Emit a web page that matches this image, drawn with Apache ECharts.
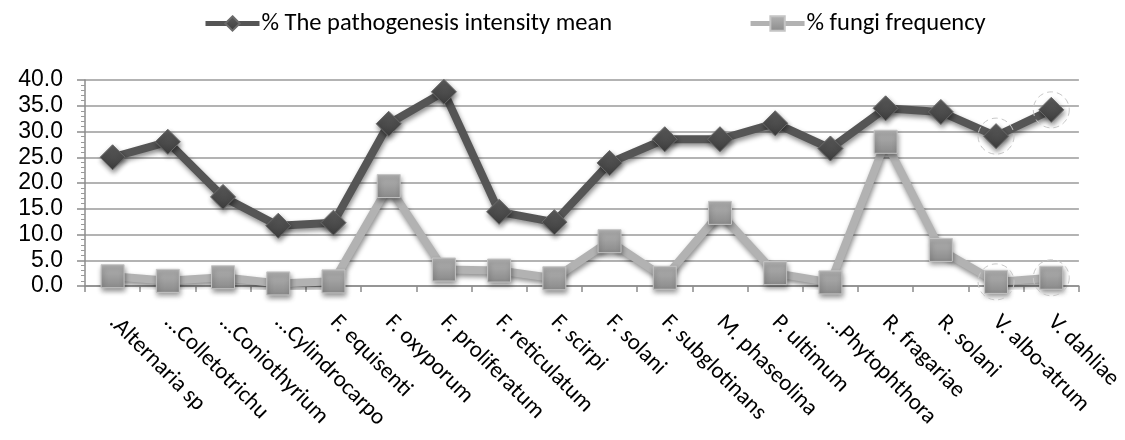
<!DOCTYPE html>
<html>
<head>
<meta charset="utf-8">
<script src="https://cdn.jsdelivr.net/npm/echarts@6/dist/echarts.min.js"></script>
<style>
  html, body { margin: 0; padding: 0; background: #fff; }
  #chart { width: 1125px; height: 440px; }
</style>
</head>
<body>
<div id="chart"></div>
<script>
// Fungal species along the category axis
const categories = [
  '.Alternaria sp', '…Colletotrichu', '…Coniothyrium', '…Cylindrocarpo',
  'F. equisenti', 'F. oxyporum', 'F. proliferatum', 'F. reticulatum',
  'F. scirpi', 'F. solani', 'F. subglotinans', 'M. phaseolina',
  'P. ultimum', '…Phytophthora', 'R. fragariae', 'R. solani',
  'V. albo-atrum', 'V. dahliae'
];

// % The pathogenesis intensity mean
const intensityMean = [
  25.0, 28.0, 17.3, 11.7, 12.3, 31.5, 37.7, 14.4, 12.4, 23.9,
  28.5, 28.5, 31.6, 26.7, 34.5, 33.8, 29.1, 34.2
];

// % fungi frequency
const fungiFrequency = [
  1.9, 1.0, 1.7, 0.5, 0.9, 19.4, 3.2, 3.0, 1.5, 8.7,
  1.6, 14.2, 2.5, 0.7, 28.0, 7.0, 0.8, 1.6
];

const seriesNames = ['% The pathogenesis intensity mean', '% fungi frequency'];
const yTicks = { min: 0, max: 40, interval: 5 };

// the last two points of each series carry a dashed selection ring
const ringedIndices = [16, 17];

const chart = echarts.init(document.getElementById('chart'));

const shadow = {
  shadowColor: 'rgba(0,0,0,0.45)',
  shadowBlur: 5,
  shadowOffsetX: 1,
  shadowOffsetY: 3
};

const uiFont = 'Carlito, Lato, "Open Sans", sans-serif';

function rings(values) {
  return {
    symbol: 'circle',
    symbolSize: 36,
    silent: true,
    label: { show: false },
    itemStyle: {
      color: 'rgba(0,0,0,0)',
      borderColor: '#c8c8c8',
      borderWidth: 1,
      borderType: [6, 4]
    },
    data: ringedIndices.map(i => ({ coord: [i, values[i]] }))
  };
}

chart.setOption({
  animation: false,
  backgroundColor: '#ffffff',
  legend: {
    top: 6,
    left: 198,
    itemGap: 136,
    itemWidth: 54,
    itemHeight: 18,
    lineStyle: { width: 5 },
    textStyle: { fontFamily: uiFont, fontSize: 24.5, color: '#000', padding: [0, 0, 0, -3] },
    data: [seriesNames[0], seriesNames[1]]
  },
  grid: { left: 85, right: 41, top: 80, bottom: 154 },
  xAxis: {
    type: 'category',
    data: categories,
    boundaryGap: true,
    axisLine: { lineStyle: { color: '#8c8c8c', width: 1.5 } },
    axisTick: { show: true, length: 6, inside: false, lineStyle: { color: '#8c8c8c', width: 1.5 } },
    axisLabel: {
      rotate: -45,
      interval: 0,
      margin: 33,
      fontFamily: uiFont,
      fontSize: 23,
      color: '#000'
    }
  },
  yAxis: {
    type: 'value',
    min: yTicks.min,
    max: yTicks.max,
    interval: yTicks.interval,
    axisLine: { show: true, lineStyle: { color: '#8c8c8c', width: 1.5 } },
    axisTick: { show: true, length: 8, lineStyle: { color: '#8c8c8c', width: 1.5 } },
    minorTick: { show: true, splitNumber: 5, length: 4, lineStyle: { color: '#9a9a9a' } },
    splitLine: { show: true, lineStyle: { color: '#9a9a9a', width: 1.5 } },
    axisLabel: {
      formatter: v => v.toFixed(1),
      fontFamily: '"Liberation Sans", Arial, sans-serif',
      fontSize: 23,
      color: '#000',
      margin: 22
    }
  },
  series: [
    {
      name: seriesNames[0],
      type: 'line',
      data: intensityMean,
      symbol: 'diamond',
      symbolSize: 25,
      z: 3,
      lineStyle: Object.assign({ color: '#555555', width: 8 }, shadow),
      itemStyle: Object.assign({
        color: {
          type: 'linear', x: 0, y: 0, x2: 0, y2: 1,
          colorStops: [{ offset: 0, color: '#5e5e5e' }, { offset: 1, color: '#3c3c3c' }]
        },
        borderColor: '#6a6a6a',
        borderWidth: 1
      }, shadow),
      markPoint: rings(intensityMean)
    },
    {
      name: seriesNames[1],
      type: 'line',
      data: fungiFrequency,
      symbol: 'rect',
      symbolSize: 23,
      z: 4,
      lineStyle: Object.assign({ color: '#b2b2b2', width: 8 }, shadow),
      itemStyle: Object.assign({
        color: {
          type: 'linear', x: 0, y: 0, x2: 0, y2: 1,
          colorStops: [{ offset: 0, color: '#b4b4b4' }, { offset: 1, color: '#8a8a8a' }]
        },
        borderColor: '#c4c4c4',
        borderWidth: 1
      }, shadow),
      markPoint: rings(fungiFrequency)
    }
  ],
  color: ['#555555', '#b2b2b2']
});
</script>
</body>
</html>
